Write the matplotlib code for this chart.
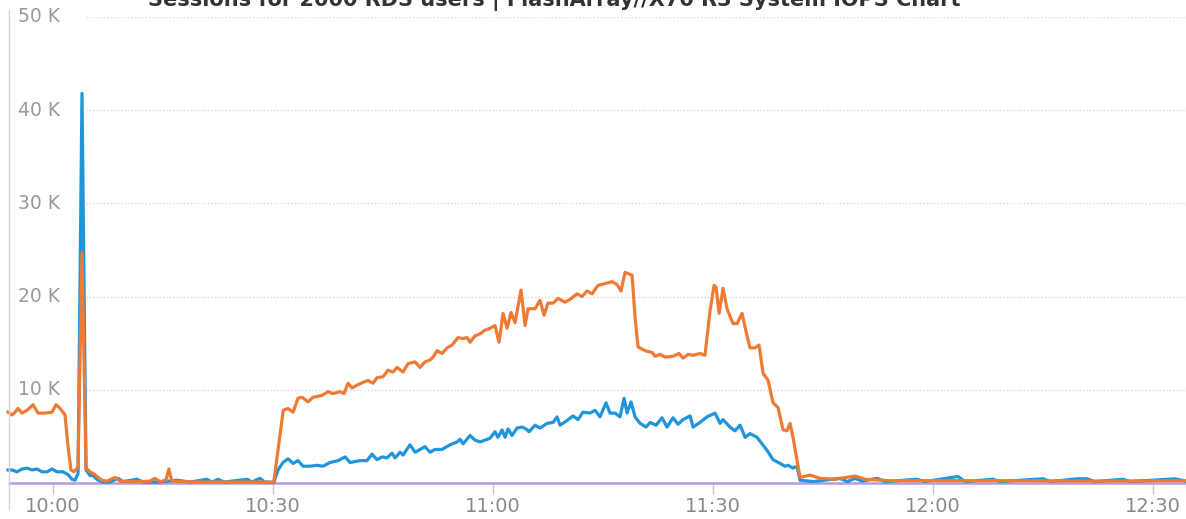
import matplotlib
matplotlib.use("Agg")
import matplotlib.pyplot as plt
from matplotlib.lines import Line2D

# ---------------- data (minutes after 10:00, values in IOPS) ----------------
title = "Sessions for 2000 RDS users | FlashArray//X70 R3 System IOPS Chart"

write_t = [-6.14, -5.59, -5.18, -4.77, -4.23, -3.55, -2.73, -2.05, -1.09, -0.14,
           0.41, 0.95, 1.64, 2.05, 2.45, 2.86, 3.41, 3.95, 4.5, 5.05,
           5.73, 6.14, 6.68, 7.36, 8.45, 9.14, 10.5, 11.86, 13.2, 13.9,
           14.6, 15.4, 15.8, 16.2, 18.0, 20.0, 22.8, 25.5, 28.2, 30.1,
           31.4, 32.05, 32.73, 33.41, 33.96, 34.77, 35.46, 36.68, 37.5, 38.18,
           39.14, 39.68, 40.23, 40.77, 41.46, 42.27, 42.96, 43.64, 44.18, 45.0,
           45.68, 46.37, 46.91, 47.73, 48.41, 49.37, 50.05, 50.73, 51.41, 51.82,
           52.37, 53.05, 53.73, 54.41, 55.23, 55.91, 56.46, 56.87, 57.55, 58.23,
           58.91, 59.59, 60.27, 60.82, 61.37, 61.91, 62.46, 63.0, 63.82, 64.37,
           64.78, 65.73, 66.41, 66.96, 67.5, 68.19, 68.87, 69.82, 70.5, 71.46,
           72.14, 72.82, 73.5, 74.32, 75.28, 76.23, 76.91, 77.46, 78.0, 78.96,
           79.37, 79.78, 80.73, 81.69, 82.1, 82.78, 83.46, 84.55, 85.37, 85.91,
           86.6, 87.28, 88.23, 88.91, 89.6, 90.14, 90.42, 90.83, 91.37, 91.91,
           92.73, 93.28, 93.96, 94.64, 95.05, 95.73, 96.28, 96.82, 97.51, 98.19,
           98.87, 99.55, 100.1, 100.5, 100.91, 101.87, 103.23, 104.6, 106.6, 109.4,
           110.7, 114.1, 122.3, 129.1, 142.8, 154.5]
write_k = [7.6, 7.3, 7.6, 8.0, 7.5, 7.8, 8.4, 7.5, 7.5, 7.6,
           8.4, 8.0, 7.3, 3.9, 1.4, 1.2, 1.7, 24.7, 1.6, 1.2,
           0.9, 0.6, 0.3, 0.2, 0.6, 0.2, 0.15, 0.15, 0.2, 0.5,
           0.15, 0.3, 1.5, 0.2, 0.15, 0.1, 0.1, 0.1, 0.1, 0.1,
           7.8, 8.0, 7.6, 9.1, 9.2, 8.7, 9.2, 9.4, 9.8, 9.6,
           9.8, 9.6, 10.7, 10.2, 10.5, 10.8, 11.0, 10.7, 11.3, 11.4,
           12.1, 11.9, 12.4, 11.9, 12.8, 13.0, 12.4, 13.0, 13.2, 13.5,
           14.2, 13.9, 14.5, 14.8, 15.6, 15.5, 15.6, 15.1, 15.8, 16.0,
           16.4, 16.6, 16.9, 15.1, 18.2, 16.6, 18.3, 17.2, 20.7, 16.9,
           18.7, 18.7, 19.6, 18.0, 19.3, 19.3, 19.8, 19.4, 19.7, 20.3,
           20.0, 20.6, 20.3, 21.2, 21.4, 21.6, 21.3, 20.6, 22.6, 22.3,
           17.8, 14.6, 14.2, 14.0, 13.6, 13.8, 13.5, 13.6, 13.9, 13.4,
           13.8, 13.7, 13.9, 13.7, 18.5, 21.2, 21.0, 18.2, 20.9, 18.7,
           17.1, 17.1, 18.2, 15.8, 14.5, 14.5, 14.8, 11.8, 11.0, 8.6,
           8.1, 5.7, 5.6, 6.4, 4.9, 0.6, 0.85, 0.5, 0.4, 0.75,
           0.4, 0.25, 0.25, 0.25, 0.2, 0.25]

read_t = [-6.14, -5.59, -4.91, -4.23, -3.55, -2.86, -2.18, -1.5, -0.82, -0.14,
          0.55, 1.36, 2.05, 2.59, 3.0, 3.41, 3.95, 4.5, 5.05, 5.45,
          6.14, 6.82, 7.77, 8.86, 9.55, 11.45, 12.27, 14.6, 16.9, 18.7,
          21.0, 21.7, 22.5, 23.3, 26.5, 27.1, 28.2, 28.9, 30.1, 30.68,
          31.36, 32.05, 32.73, 33.41, 34.09, 35.05, 36.0, 36.82, 37.77, 38.86,
          39.82, 40.5, 41.87, 42.82, 43.5, 44.18, 44.87, 45.55, 46.23, 46.64,
          47.32, 47.73, 48.68, 49.37, 50.05, 50.73, 51.41, 52.09, 53.05, 54.14,
          55.09, 55.5, 55.91, 56.87, 57.55, 58.23, 59.59, 60.27, 60.68, 61.23,
          61.64, 62.05, 62.59, 63.28, 63.96, 64.5, 64.91, 65.73, 66.41, 67.37,
          68.19, 68.73, 69.14, 70.09, 70.91, 71.59, 72.27, 73.23, 73.91, 74.59,
          75.41, 75.96, 76.64, 77.32, 77.87, 78.28, 78.82, 79.37, 80.05, 80.87,
          81.42, 82.23, 83.05, 83.73, 84.55, 85.23, 85.91, 86.87, 87.28, 88.23,
          89.19, 90.28, 90.96, 91.37, 92.32, 93.0, 93.69, 94.37, 95.05, 96.0,
          97.37, 98.19, 99.14, 99.82, 100.23, 100.91, 101.46, 101.87, 103.64, 107.3,
          108.3, 109.4, 110.3, 112.4, 113.5, 117.8, 118.9, 123.4, 124.4, 128.2,
          129.1, 135.0, 136.0, 139.6, 141.0, 142.1, 145.9, 146.9, 153.0, 154.5]
read_k = [1.4, 1.4, 1.2, 1.5, 1.6, 1.4, 1.5, 1.2, 1.2, 1.5,
          1.2, 1.2, 0.9, 0.4, 0.3, 1.0, 41.8, 1.4, 0.8, 0.8,
          0.3, 0.1, 0.1, 0.5, 0.15, 0.4, 0.1, 0.1, 0.3, 0.1,
          0.4, 0.1, 0.4, 0.1, 0.4, 0.1, 0.5, 0.1, 0.05, 1.4,
          2.2, 2.6, 2.1, 2.4, 1.8, 1.8, 1.9, 1.8, 2.2, 2.4,
          2.8, 2.2, 2.4, 2.4, 3.1, 2.5, 2.8, 2.7, 3.2, 2.7,
          3.3, 3.0, 4.1, 3.3, 3.6, 3.9, 3.3, 3.6, 3.6, 4.1,
          4.4, 4.7, 4.2, 5.1, 4.6, 4.4, 4.8, 5.5, 4.9, 5.7,
          4.9, 5.8, 5.1, 5.9, 6.0, 5.8, 5.5, 6.2, 5.9, 6.4,
          6.5, 7.1, 6.2, 6.7, 7.2, 6.8, 7.6, 7.5, 7.8, 7.1,
          8.6, 7.5, 7.5, 7.1, 9.1, 7.5, 8.7, 7.1, 6.4, 6.0,
          6.5, 6.2, 7.0, 6.0, 7.0, 6.3, 6.8, 7.2, 6.0, 6.5,
          7.1, 7.5, 6.4, 6.8, 6.0, 5.6, 6.2, 4.9, 5.3, 4.9,
          3.5, 2.5, 2.1, 1.8, 1.9, 1.6, 1.8, 0.3, 0.15, 0.5,
          0.15, 0.5, 0.2, 0.5, 0.15, 0.4, 0.15, 0.7, 0.15, 0.4,
          0.15, 0.45, 0.15, 0.45, 0.45, 0.15, 0.4, 0.15, 0.45, 0.2]

mirror_t = [-6.14, 154.5]
mirror_k = [0.0, 0.0]

x_ticks = [0, 30, 60, 90, 120, 150]
x_labels = ["10:00", "10:30", "11:00", "11:30", "12:00", "12:30"]
y_ticks = [10000, 20000, 30000, 40000, 50000]
y_labels = ["10 K", "20 K", "30 K", "40 K", "50 K"]

# ---------------- figure ----------------
W, H = 1186, 519
fig = plt.figure(figsize=(W / 100, H / 100), dpi=100)
fig.patch.set_facecolor("white")
ax = fig.add_axes([8 / W, 36 / H, 1 - 8 / W, 466 / H])

FONT = "DejaVu Sans"
BLUE = "#1f95db"
ORANGE = "#ef7a33"
PURPLE = "#b49be0"

ax.plot(mirror_t, [v * 1000 for v in mirror_k], color=PURPLE, lw=1.8,
        clip_on=False, zorder=2, solid_capstyle="butt")
ax.plot(read_t, [v * 1000 for v in read_k], color=BLUE, lw=2.3,
        clip_on=False, zorder=3, solid_joinstyle="round")
ax.plot(write_t, [v * 1000 for v in write_k], color=ORANGE, lw=2.3,
        clip_on=False, zorder=4, solid_joinstyle="round")

ax.set_xlim(-6.14, 154.5)
ax.set_ylim(0, 50000)

for s in ax.spines.values():
    s.set_visible(False)

# gridlines (dotted, starting after the inner labels)
for yv in y_ticks:
    ax.axhline(yv, xmin=0.066, xmax=1.0, color="#dcdcdc", lw=1.0,
               linestyle=(0, (1, 1.5)), zorder=1)

# y labels inside the plot
ax.set_yticks([])
for yv, lab in zip(y_ticks, y_labels):
    ax.text(0.0085, yv, lab, transform=ax.get_yaxis_transform(),
            ha="left", va="center", fontsize=13.5, color="#9a9a9a",
            family=FONT, zorder=5)

ax.set_xticks(x_ticks)
ax.set_xticklabels(x_labels, fontsize=14, color="#8a8a8a", family=FONT)
ax.tick_params(axis="x", direction="out", length=8, width=1,
               color="#c8c8c8", pad=2)

# left vertical rule extending beyond the axes
fig.add_artist(Line2D([8.5 / W, 8.5 / W], [1 - 510 / H, 1 - 10 / H],
                      color="#d6d6d6", lw=1.0, transform=fig.transFigure))

fig.text(554 / W, 1 - 6 / H, title, ha="center", va="baseline",
         fontsize=15, fontweight="bold", color="#333333", family=FONT)

fig.savefig("out.png", dpi=100)
